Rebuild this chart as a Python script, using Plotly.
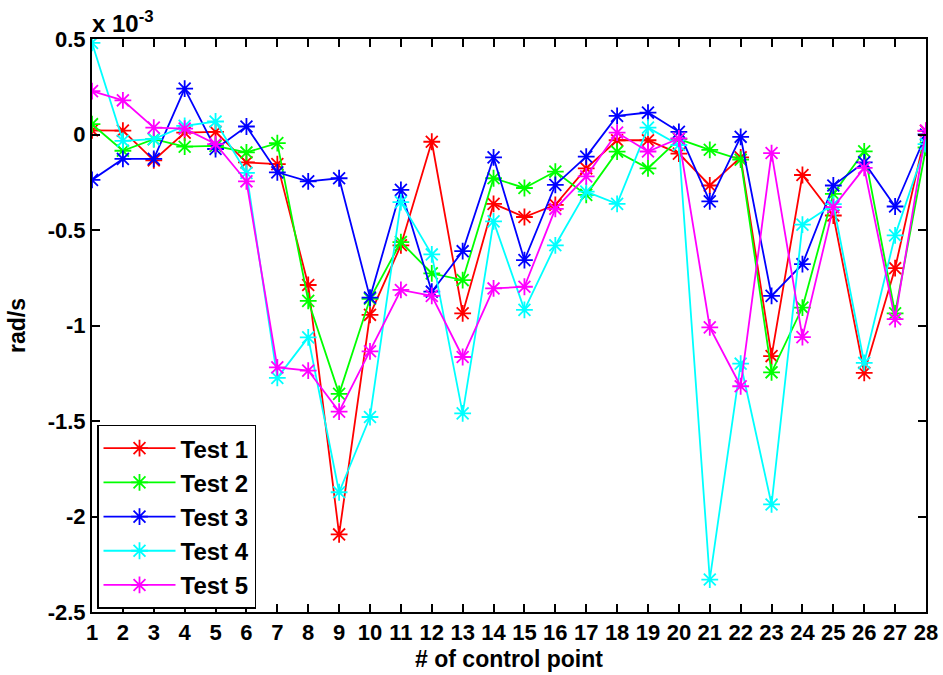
import plotly.graph_objects as go

# Angular-rate error per control point, in units of 1e-3 rad/s
control_points = list(range(1, 29))

test1 = [0.022, 0.020, -0.135, 0.010, 0.014, -0.146, -0.155, -0.788, -2.094, -0.944,
         -0.580, -0.038, -0.936, -0.363, -0.432, -0.368, -0.177, -0.030, -0.030, -0.100,
         -0.267, -0.120, -1.160, -0.212, -0.424, -1.248, -0.700, 0.019]
test2 = [0.054, -0.085, -0.024, -0.064, -0.060, -0.094, -0.045, -0.871, -1.358, -0.860,
         -0.563, -0.727, -0.762, -0.229, -0.280, -0.194, -0.316, -0.090, -0.177, -0.024,
         -0.080, -0.132, -1.245, -0.906, -0.311, -0.088, -0.936, -0.068]
test3 = [-0.238, -0.128, -0.128, 0.240, -0.076, 0.042, -0.198, -0.245, -0.229, -0.854,
         -0.290, -0.823, -0.611, -0.120, -0.658, -0.264, -0.116, 0.097, 0.115, 0.014,
         -0.350, -0.012, -0.845, -0.679, -0.267, -0.146, -0.377, 0.000]
test4 = [0.480, -0.033, -0.024, 0.045, 0.068, -0.201, -1.274, -1.062, -1.873, -1.479,
         -0.354, -0.628, -1.460, -0.455, -0.918, -0.580, -0.299, -0.363, 0.036, -0.055,
         -2.330, -1.200, -1.937, -0.472, -0.365, -1.196, -0.528, -0.050]
test5 = [0.227, 0.179, 0.036, 0.031, -0.050, -0.245, -1.219, -1.236, -1.451, -1.135,
         -0.814, -0.845, -1.165, -0.806, -0.797, -0.389, -0.219, 0.010, -0.089, -0.021,
         -1.010, -1.318, -0.097, -1.061, -0.380, -0.175, -0.967, 0.020]

series_names = ["Test 1", "Test 2", "Test 3", "Test 4", "Test 5"]
series_values = [test1, test2, test3, test4, test5]
series_colors = ["#FF0000", "#00FF00", "#0000FF", "#00FFFF", "#FF00FF"]

y_tick_vals = [0.5, 0, -0.5, -1, -1.5, -2, -2.5]
y_tick_text = ["0.5", "0", "-0.5", "-1", "-1.5", "-2", "-2.5"]

FAMILY = "Liberation Sans, Arial, sans-serif"
TICK_FONT = dict(family=FAMILY, size=22, color="black", weight="bold")
TITLE_FONT = dict(family=FAMILY, size=23, color="black", weight="bold")
LEGEND_FONT = dict(family=FAMILY, size=24, color="black", weight="bold")
EXP_FONT = dict(family=FAMILY, size=24, color="black", weight="bold")

fig = go.Figure()
for name, vals, col in zip(series_names, series_values, series_colors):
    fig.add_trace(go.Scatter(
        x=control_points, y=vals, name=name, mode="lines+markers",
        line=dict(color=col, width=1.8),
        marker=dict(symbol="asterisk-open", size=14, line=dict(color=col, width=1.8)),
    ))

axis_common = dict(
    showline=True, linecolor="black", linewidth=2, mirror="allticks",
    ticks="inside", ticklen=8, tickwidth=1.5, tickcolor="black",
    showgrid=False, zeroline=False, tickfont=TICK_FONT, automargin=False,
)

fig.update_xaxes(
    range=[1, 28], tickvals=control_points, ticktext=[str(c) for c in control_points],
    title=dict(text="# of control point", font=TITLE_FONT, standoff=6), **axis_common,
)
fig.update_yaxes(
    range=[-2.5, 0.5], tickvals=y_tick_vals, ticktext=y_tick_text,
    title=dict(text="rad/s", font=TITLE_FONT, standoff=16), **axis_common,
)

fig.add_annotation(
    xref="paper", yref="paper", x=0, y=1, xanchor="left", yanchor="bottom",
    text="x 10<sup>-3</sup>", showarrow=False, font=EXP_FONT, yshift=0, xshift=-2,
)

fig.update_layout(
    width=943, height=675,
    margin=dict(l=92, r=17, t=39, b=63),
    plot_bgcolor="white", paper_bgcolor="white",
    font=TICK_FONT,
    showlegend=True,
    legend=dict(
        x=0.006, y=0.006, xanchor="left", yanchor="bottom",
        bgcolor="white", bordercolor="black", borderwidth=1.5,
        font=LEGEND_FONT, itemwidth=72,
    ),
)

fig.write_html("out.html")
